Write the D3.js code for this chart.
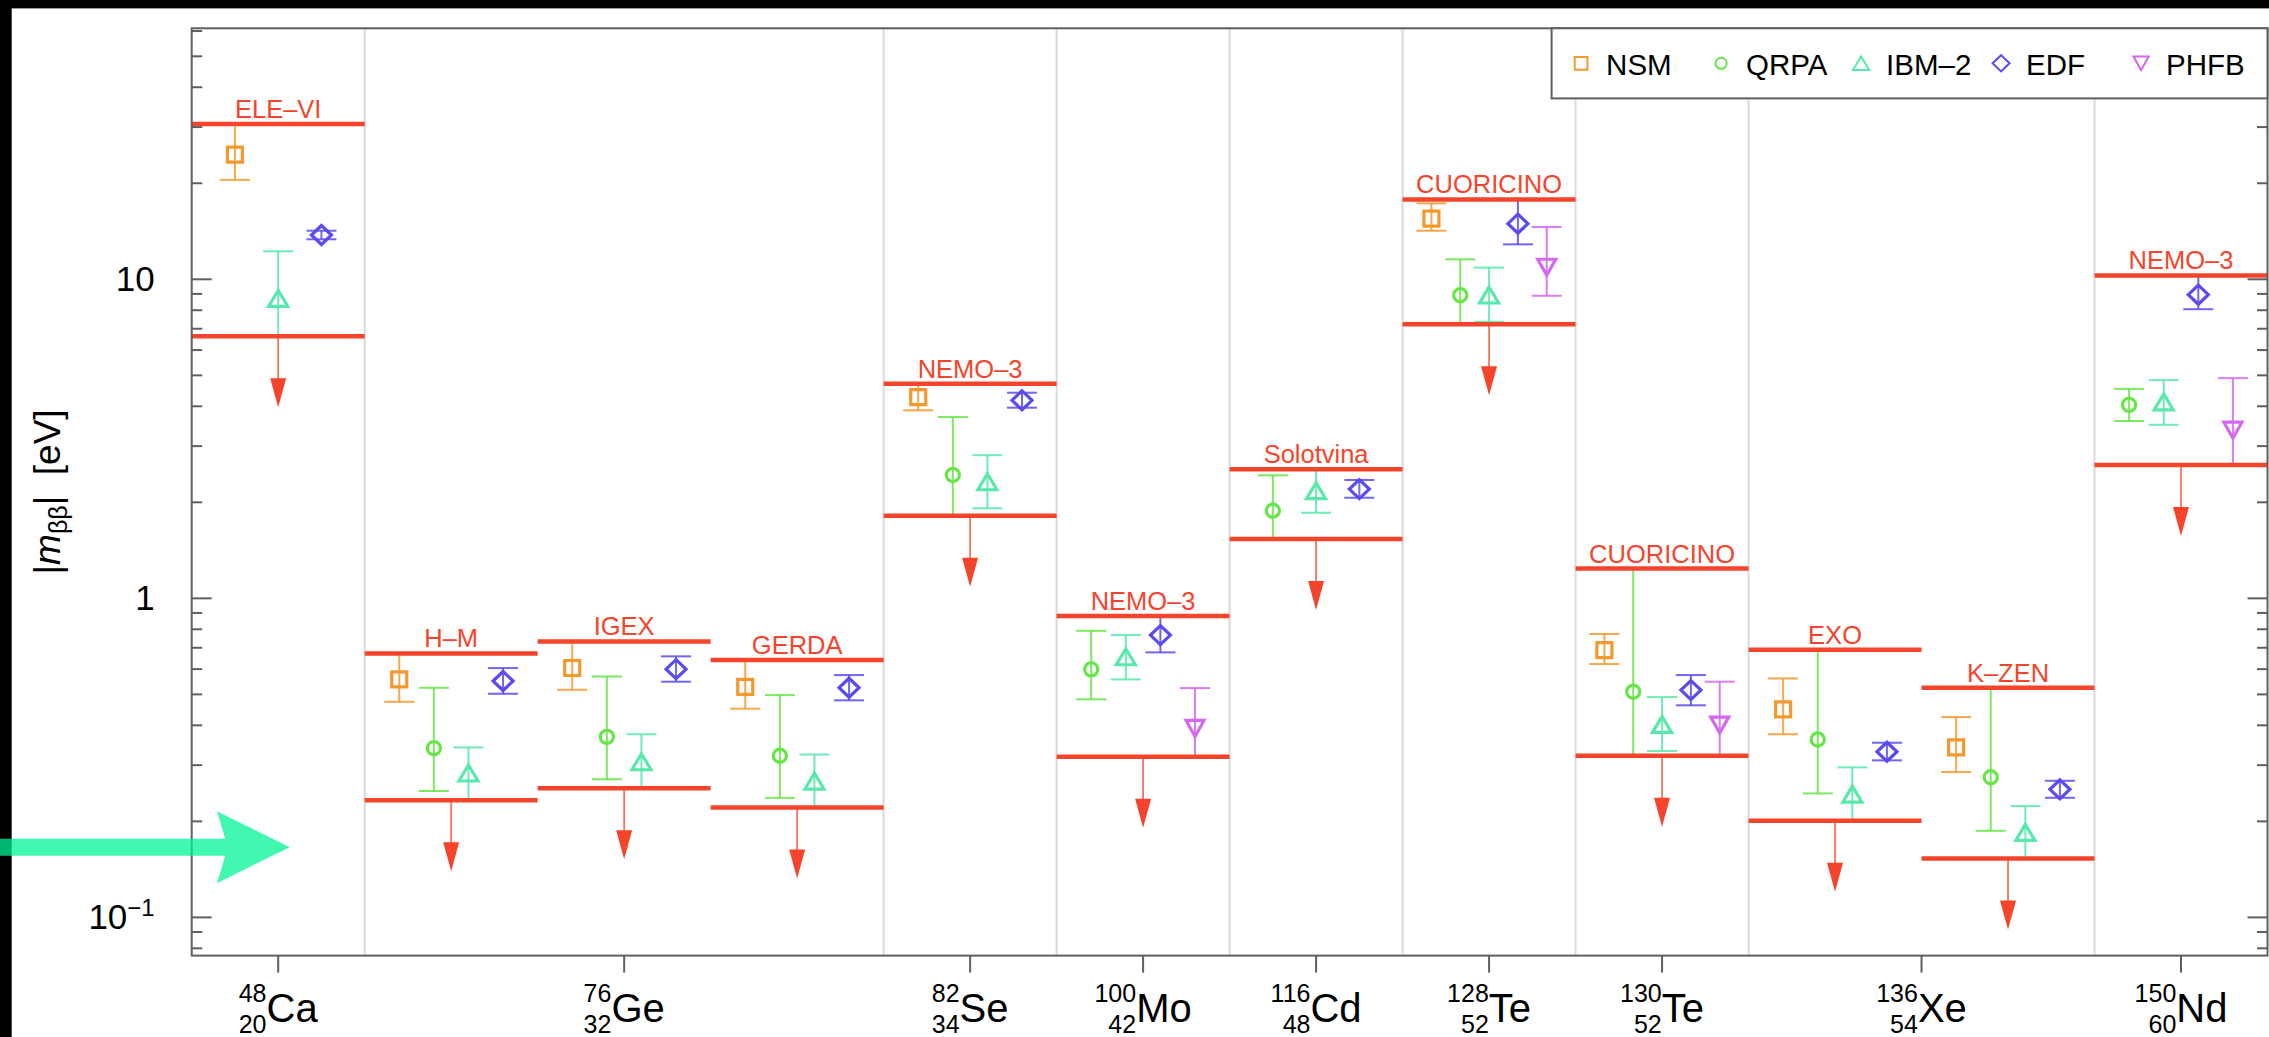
<!DOCTYPE html>
<html>
<head>
<meta charset="utf-8">
<script src="https://cdn.jsdelivr.net/npm/d3@7"></script>
<style>
  html, body { margin: 0; padding: 0; background: #000; }
  svg { display: block; }
  text { font-family: "Liberation Sans", Arial, Helvetica, sans-serif; }
</style>
</head>
<body>
<svg id="chart" width="2269" height="1037"></svg>
<script>
// ---- Measurements: one slot per experiment, left to right ----
const experiments = ["ELE–VI", "H–M", "IGEX", "GERDA", "NEMO–3", "NEMO–3",
                     "Solotvina", "CUORICINO", "CUORICINO", "EXO", "K–ZEN", "NEMO–3"];
// range of the |m_bb| upper limit quoted by each experiment [eV]
const limitHigh = [30.7, 0.672, 0.733, 0.641, 4.71, 0.880, 2.54, 17.8, 1.24, 0.690, 0.525, 10.28];
const limitLow  = [6.63, 0.233, 0.254, 0.221, 1.815, 0.319, 1.534, 7.23, 0.321, 0.201, 0.153, 2.62];

// ---- Isotopes and the experiment slots each one covers ----
const isotopeSymbol    = ["Ca", "Ge", "Se", "Mo", "Cd", "Te", "Te", "Xe", "Nd"];
const isotopeMass      = [48, 76, 82, 100, 116, 128, 130, 136, 150];
const isotopeZ         = [20, 32, 34, 42, 48, 52, 52, 54, 60];
const isotopeFirstSlot = [0, 1, 4, 5, 6, 7, 8, 9, 11];
const isotopeLastSlot  = [0, 3, 4, 5, 6, 7, 8, 10, 11];

// ---- Nuclear-matrix-element models: central value and range per slot ----
const modelNames = ["NSM", "QRPA", "IBM–2", "EDF", "PHFB"];

const nsmValue = [24.6, 0.557, 0.605, 0.528, 4.27, null, null, 15.5, 0.688, 0.449, 0.341, null];
const nsmLow   = [20.5, 0.474, 0.517, 0.451, 3.885, null, null, 14.2, 0.6225, 0.375, 0.2855, null];
const nsmHigh  = [30.5, 0.670, 0.730, 0.640, 4.70, null, null, 17.3, 0.773, 0.561, 0.4245, null];

const qrpaValue = [null, 0.339, 0.368, 0.321, 2.435, 0.599, 1.882, 8.91, 0.5095, 0.361, 0.275, 4.04];
const qrpaLow   = [null, 0.249, 0.271, 0.237, 1.815, 0.4825, 1.534, 7.23, 0.321, 0.2446, 0.1868, 3.596];
const qrpaHigh  = [null, 0.5245, 0.569, 0.4975, 3.70, 0.791, 2.43, 11.55, 1.24, 0.690, 0.5245, 4.536];

const ibmValue = [8.72, 0.2835, 0.3075, 0.2675, 2.32, 0.656, 2.175, 8.93, 0.4027, 0.2434, 0.1847, 4.13];
const ibmLow   = [6.63, 0.233, 0.254, 0.221, 1.915, 0.557, 1.855, 7.36, 0.3322, 0.201, 0.153, 3.50];
const ibmHigh  = [12.24, 0.341, 0.375, 0.324, 2.81, 0.767, 2.54, 10.88, 0.4904, 0.2953, 0.2233, 4.83];

const edfValue = [13.77, 0.5506, 0.600, 0.5245, 4.176, 0.767, 2.20, 14.94, 0.5157, 0.3305, 0.252, 8.95];
const edfLow   = [13.35, 0.5023, 0.548, 0.479, 3.959, 0.677, 2.067, 12.87, 0.4621, 0.3106, 0.2371, 8.06];
const edfHigh  = [14.2, 0.6046, 0.658, 0.5748, 4.411, 0.880, 2.349, 17.8, 0.5748, 0.3527, 0.268, 10.28];

const phfbValue = [null, null, null, null, null, 0.391, null, 10.91, 0.4007, null, null, 3.365];
const phfbLow   = [null, null, null, null, null, 0.319, null, 8.88, 0.321, null, null, 2.62];
const phfbHigh  = [null, null, null, null, null, 0.5233, null, 14.59, 0.548, null, null, 4.90];

// y-axis decade labels
const yTickValues = [0.1, 1, 10];
const yTickBase   = ["10", "1", "10"];
const yTickExp    = ["−1", "", ""];

// reference level marked by the side arrow [eV]
const referenceLevel = 0.166;

// ---------------------------------------------------------------------
const W = 2269, H = 1037;
const frame = { left: 191.7, right: 2267.5, top: 28.3, bottom: 955.6 };

const models = [
  { name: modelNames[0], value: nsmValue,  low: nsmLow,  high: nsmHigh,  color: "#f5992f", shape: "square" },
  { name: modelNames[1], value: qrpaValue, low: qrpaLow, high: qrpaHigh, color: "#66e646", shape: "circle" },
  { name: modelNames[2], value: ibmValue,  low: ibmLow,  high: ibmHigh,  color: "#58e8ab", shape: "triUp" },
  { name: modelNames[3], value: edfValue,  low: edfLow,  high: edfHigh,  color: "#5a4bf0", shape: "diamond" },
  { name: modelNames[4], value: phfbValue, low: phfbLow, high: phfbHigh, color: "#d468f2", shape: "triDown" }
];

const RED = "#f4442b";
const AXIS = "#5f5f5f";

const svg = d3.select("#chart");

// page background with the dark margin at top and left
svg.append("rect").attr("x", 11.7).attr("y", 8.4)
   .attr("width", W - 11.7).attr("height", H - 8.4).attr("fill", "#fff");

const x = d3.scaleLinear().domain([0, experiments.length]).range([frame.left, frame.right]);
const y = d3.scaleLog().domain([0.0759, 61.2]).range([frame.bottom, frame.top]);

function markerPath(shape, k) {
  const p = d3.path();
  if (shape === "square") { const h = 7.5 * k; p.rect(-h, -h, 2 * h, 2 * h); }
  else if (shape === "circle") { p.arc(0, 0, 6.6 * k, 0, 2 * Math.PI); p.closePath(); }
  else if (shape === "triUp") { p.moveTo(0, -8 * k); p.lineTo(9.5 * k, 8 * k); p.lineTo(-9.5 * k, 8 * k); p.closePath(); }
  else if (shape === "triDown") { p.moveTo(0, 8 * k); p.lineTo(9 * k, -8 * k); p.lineTo(-9 * k, -8 * k); p.closePath(); }
  else if (shape === "diamond") { p.moveTo(0, -9.5 * k); p.lineTo(10 * k, 0); p.lineTo(0, 9.5 * k); p.lineTo(-10 * k, 0); p.closePath(); }
  return p.toString();
}

// ---- vertical separators between isotopes ----
const separators = isotopeLastSlot.slice(0, -1).map(s => s + 1);
svg.append("g").selectAll("line").data(separators).join("line")
  .attr("x1", d => x(d)).attr("x2", d => x(d))
  .attr("y1", frame.top).attr("y2", frame.bottom)
  .attr("stroke", "#dadada").attr("stroke-width", 2);

// ---- model predictions with their ranges ----
const gData = svg.append("g");
experiments.forEach((exp, i) => {
  const present = models.filter(m => m.value[i] != null);
  const px = d3.scalePoint().domain(present.map(m => m.name))
    .range([x(i), x(i + 1)]).padding(1);
  present.forEach(m => {
    const cx = px(m.name);
    const g = gData.append("g");
    const capW = 15;
    g.append("line").attr("x1", cx).attr("x2", cx)
      .attr("y1", y(m.low[i])).attr("y2", y(m.high[i]))
      .attr("stroke", m.color).attr("stroke-width", 2).attr("opacity", 0.85);
    [m.low[i], m.high[i]].forEach(v => {
      g.append("line").attr("x1", cx - capW).attr("x2", cx + capW)
        .attr("y1", y(v)).attr("y2", y(v))
        .attr("stroke", m.color).attr("stroke-width", 2).attr("opacity", 0.85);
    });
    g.append("path").attr("d", markerPath(m.shape, 1))
      .attr("transform", `translate(${cx},${y(m.value[i])})`)
      .attr("fill", "none").attr("stroke", m.color).attr("stroke-width", 3.2);
  });
});

// ---- experimental limits: band edges, label and downward arrow ----
const gLim = svg.append("g");
experiments.forEach((exp, i) => {
  const x0 = x(i), x1 = x(i + 1), xc = (x0 + x1) / 2;
  const yHi = y(limitHigh[i]), yLo = y(limitLow[i]);
  [yHi, yLo].forEach(yy => {
    gLim.append("line").attr("x1", x0).attr("x2", x1).attr("y1", yy).attr("y2", yy)
      .attr("stroke", RED).attr("stroke-width", 4.5);
  });
  const len = 71, head = 29, hw = 8;
  gLim.append("line").attr("x1", xc).attr("x2", xc)
    .attr("y1", yLo).attr("y2", yLo + len - head + 2)
    .attr("stroke", RED).attr("stroke-width", 1.8).attr("opacity", 0.75);
  gLim.append("path")
    .attr("d", `M${xc - hw},${yLo + len - head} L${xc + hw},${yLo + len - head} L${xc},${yLo + len} Z`)
    .attr("fill", RED);
  gLim.append("text").attr("x", xc).attr("y", yHi - 6)
    .attr("text-anchor", "middle").attr("font-size", 25.5).attr("fill", RED)
    .text(exp);
});

// ---- frame and axes ----
const gAx = svg.append("g");
gAx.append("rect").attr("x", frame.left).attr("y", frame.top)
  .attr("width", frame.right - frame.left).attr("height", frame.bottom - frame.top)
  .attr("fill", "none").attr("stroke", AXIS).attr("stroke-width", 2);

// log ticks on both vertical axes
const [d0, d1] = y.domain();
const yTicks = [];
for (let e = -2; e <= 2; e++) {
  for (let k = 1; k <= 9; k++) {
    const v = k * Math.pow(10, e);
    if (v >= d0 && v <= d1) yTicks.push({ v, major: k === 1 });
  }
}
gAx.selectAll(".ytl").data(yTicks).join("line")
  .attr("x1", frame.left).attr("x2", d => frame.left + (d.major ? 20 : 10.5))
  .attr("y1", d => y(d.v)).attr("y2", d => y(d.v))
  .attr("stroke", AXIS).attr("stroke-width", 2);
gAx.selectAll(".ytr").data(yTicks).join("line")
  .attr("x1", frame.right).attr("x2", d => frame.right - (d.major ? 20 : 10.5))
  .attr("y1", d => y(d.v)).attr("y2", d => y(d.v))
  .attr("stroke", AXIS).attr("stroke-width", 2);

yTickValues.forEach((v, i) => {
  const t = gAx.append("text").attr("x", frame.left - 37).attr("y", y(v) + 12)
    .attr("text-anchor", "end").attr("font-size", 35).attr("fill", "#000");
  t.append("tspan").text(yTickBase[i]);
  if (yTickExp[i]) t.append("tspan").attr("dy", -13).attr("font-size", 24).text(yTickExp[i]);
});

// isotope ticks and labels
isotopeSymbol.forEach((sym, i) => {
  const xc = x((isotopeFirstSlot[i] + isotopeLastSlot[i] + 1) / 2);
  gAx.append("line").attr("x1", xc).attr("x2", xc)
    .attr("y1", frame.bottom).attr("y2", frame.bottom + 17)
    .attr("stroke", AXIS).attr("stroke-width", 2);
  const g = gAx.append("g");
  const sup = g.append("text").attr("font-size", 25).attr("text-anchor", "end")
    .attr("y", 1001.7).text(isotopeMass[i]);
  const sub = g.append("text").attr("font-size", 25).attr("text-anchor", "end")
    .attr("y", 1033.3).text(isotopeZ[i]);
  const main = g.append("text").attr("font-size", 40).attr("text-anchor", "start")
    .attr("y", 1021.7).text(sym);
  const wIdx = Math.max(sup.node().getComputedTextLength(), sub.node().getComputedTextLength());
  const wSym = main.node().getComputedTextLength();
  const start = xc - (wIdx + wSym) / 2;
  sup.attr("x", start + wIdx);
  sub.attr("x", start + wIdx);
  main.attr("x", start + wIdx);
});

// y-axis title
const yTitle = gAx.append("text")
  .attr("transform", `translate(60,${(frame.top + frame.bottom) / 2}) rotate(-90)`)
  .attr("text-anchor", "middle").attr("font-size", 37).attr("fill", "#000");
yTitle.append("tspan").text("|");
yTitle.append("tspan").attr("font-style", "italic").text("m");
yTitle.append("tspan").attr("font-size", 25).attr("dy", 7).text("ββ");
yTitle.append("tspan").attr("dy", -7).text("|\u00a0\u00a0[eV]");

// ---- legend ----
const lg = svg.append("g");
const lgBox = { left: 1551.6, right: frame.right, top: frame.top, bottom: 98.4 };
lg.append("rect").attr("x", lgBox.left).attr("y", lgBox.top)
  .attr("width", lgBox.right - lgBox.left).attr("height", lgBox.bottom - lgBox.top)
  .attr("fill", "#fff").attr("stroke", AXIS).attr("stroke-width", 2);
const lgY = 63.3;
models.forEach((m, i) => {
  const mx = lgBox.left + 29.5 + i * 140;
  lg.append("path").attr("d", markerPath(m.shape, 0.85))
    .attr("transform", `translate(${mx},${lgY})`)
    .attr("fill", "none").attr("stroke", m.color).attr("stroke-width", 2);
  lg.append("text").attr("x", mx + 25).attr("y", lgY + 11.5)
    .attr("font-size", 29.5).attr("fill", "#000").text(m.name);
});

// ---- side arrow marking the reference level ----
const ay = y(referenceLevel);
const tipX = frame.left + 98, backX = tipX - 72.7, notchX = tipX - 61.5;
svg.append("path")
  .attr("d", `M0,${ay - 8.5} L${notchX - 3},${ay - 8.5} L${backX},${ay - 36} L${tipX},${ay} ` +
             `L${backX},${ay + 36} L${notchX - 3},${ay + 8.5} L0,${ay + 8.5} Z`)
  .attr("fill", "rgb(0,244,149)").attr("opacity", 0.74);
</script>
</body>
</html>
